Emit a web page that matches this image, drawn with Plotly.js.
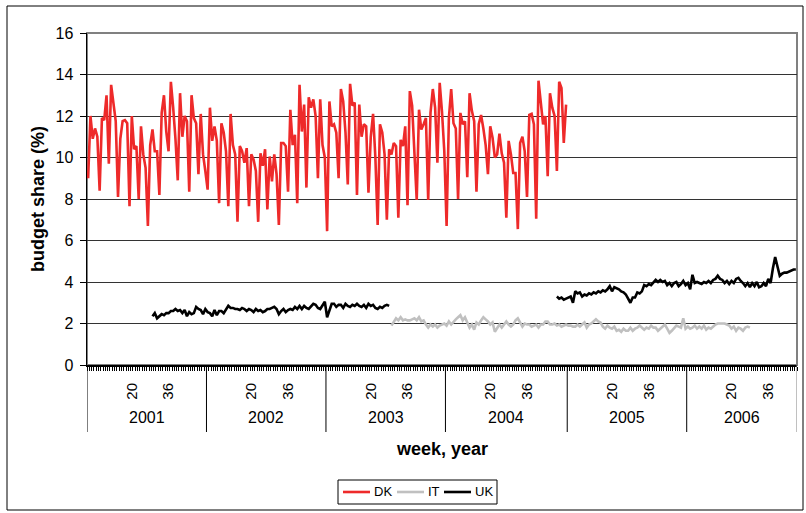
<!DOCTYPE html>
<html>
<head>
<meta charset="utf-8">
<script src="https://cdn.plot.ly/plotly-3.0.1.min.js"></script>
<style>
  body { margin: 0; background: #fff; }
  #plot { width: 806px; height: 513px; }
</style>
</head>
<body>
<div id="plot"></div>
<script>
// weekly budget share (%) by country

const years = ['2001', '2002', '2003', '2004', '2005', '2006'];
const weeksPerYear = [52, 52, 52, 53, 52, 48];
const weekLabels = [20, 36];

const seriesNames = ['DK', 'IT', 'UK'];
const seriesColors = ['#ee2a2a', '#c0c0c0', '#000000'];

const dkStart = ['2001', 1];
const dkValues = [
    // 2001
    9.0, 12.0, 10.9, 11.4, 11.0, 8.4, 11.9, 11.8, 13.0, 9.7,
    13.5, 12.7, 11.75, 8.1, 10.9, 11.75, 11.8, 11.65, 7.65, 12.0,
    10.4, 10.55, 8.0, 11.5, 10.15, 9.5, 6.7, 10.6, 11.35, 10.3,
    10.3, 8.2, 12.15, 13.0, 11.25, 10.3, 13.65, 12.4, 10.9, 8.9,
    13.1, 11.0, 12.0, 11.75, 8.35, 13.0, 11.9, 11.65, 9.2, 12.1,
    10.15, 9.35,
    // 2002
    8.45, 12.4, 10.8, 11.5, 10.8, 7.8, 11.65, 11.2, 10.3, 7.65,
    12.1, 10.6, 10.15, 6.9, 10.55, 10.3, 9.75, 10.45, 7.65, 10.15,
    9.9, 9.35, 6.9, 10.2, 9.6, 10.4, 7.5, 10.05, 8.85, 10.15,
    9.2, 6.75, 10.7, 10.7, 10.55, 8.35, 12.3, 10.6, 11.1, 7.8,
    13.5, 11.25, 12.55, 8.55, 12.9, 12.4, 12.8, 12.0, 9.0, 12.8,
    10.6, 10.0,
    // 2003
    6.45, 12.7, 11.5, 11.6, 11.2, 9.0, 13.3, 12.7, 11.2, 8.7,
    13.55, 12.5, 12.65, 8.2, 12.55, 11.0, 11.6, 11.5, 8.3, 11.0,
    12.1, 10.0, 6.75, 11.6, 11.2, 10.15, 7.0, 10.4, 10.15, 10.7,
    10.55, 7.1, 10.85, 10.55, 11.5, 7.7, 13.2, 12.5, 10.0, 7.95,
    12.3, 11.35, 11.6, 11.9, 7.95, 12.15, 13.3, 12.4, 9.75, 13.6,
    12.2, 10.3,
    // 2004
    6.7, 11.9, 13.3, 11.65, 11.4, 8.0, 12.15, 11.6, 11.75, 9.05,
    13.1, 12.25, 11.75, 8.35, 11.6, 12.05, 11.4, 10.6, 9.2, 11.5,
    10.95, 10.0, 10.15, 11.15, 10.2, 9.75, 7.1, 10.8, 10.15, 9.25,
    9.25, 6.55, 10.7, 11.0, 10.3, 8.1, 12.05, 12.1, 11.6, 7.05,
    13.7, 12.5, 11.6, 12.0, 9.1, 13.1, 12.4, 12.0, 9.35, 13.65,
    13.35, 10.7, 12.55
];

const itStart = ['2003', 29];
const itValues = [
    1.9, 2.05, 2.25, 2.15, 2.3, 2.15, 2.2, 2.15, 2.15, 2.2,
    2.25, 2.15, 2.3, 2.1, 2.15, 1.95, 1.8, 1.95, 1.85, 1.95,
    1.8, 1.9, 1.95, 2.0, 1.9, 2.1, 1.95, 2.1, 2.2, 2.3,
    2.4, 2.15, 2.3, 2.05, 1.8, 1.95, 1.7, 2.05, 1.95, 2.15,
    2.3, 2.2, 2.1, 1.95, 2.05, 1.6, 1.8, 1.95, 1.8, 1.95,
    2.1, 1.95, 1.85, 1.95, 2.15, 2.25, 2.05, 1.85, 2.0, 1.95,
    1.95, 1.85, 1.9, 1.95, 1.8, 1.95, 1.95, 2.1, 2.1, 1.95,
    1.95, 2.0, 1.9, 1.95, 1.85, 1.9, 1.95, 1.9, 1.9, 1.85,
    1.85, 1.95, 1.85, 1.95, 2.05, 1.8, 1.95, 2.0, 2.1, 2.2,
    2.1, 2.05, 1.85, 1.75, 1.9, 1.8, 1.75, 1.85, 1.65, 1.7,
    1.6, 1.75, 1.65, 1.65, 1.8, 1.65, 1.75, 1.8, 1.9, 1.8,
    1.7, 1.8, 1.75, 1.9, 1.8, 1.8, 1.65, 1.75, 1.85, 1.95,
    1.75, 1.55, 1.65, 1.8, 1.9, 1.85, 1.8, 2.25, 1.75, 1.85,
    1.75, 1.8, 1.9, 1.75, 1.85, 1.75, 1.9, 1.7, 1.8, 1.75,
    1.85, 1.95, 2.0, 2.0, 2.0, 2.0, 1.95, 1.9, 1.75, 1.85,
    1.65, 1.8, 1.75, 1.65, 1.8, 1.85, 1.8
];

const ukStartA = ['2001', 29];
const ukValuesA = [
    2.35, 2.5, 2.25, 2.35, 2.45, 2.4, 2.5, 2.5, 2.6, 2.6,
    2.7, 2.6, 2.65, 2.5, 2.65, 2.35, 2.55, 2.45, 2.5, 2.8,
    2.7, 2.65, 2.45, 2.7, 2.55, 2.5, 2.35, 2.65, 2.4, 2.6,
    2.6, 2.5, 2.7, 2.85, 2.75, 2.75, 2.7, 2.7, 2.65, 2.75,
    2.7, 2.6, 2.7, 2.65, 2.55, 2.7, 2.6, 2.65, 2.55, 2.6,
    2.7, 2.7, 2.75, 2.8, 2.7, 2.45, 2.6, 2.7, 2.55, 2.65,
    2.7, 2.65, 2.8, 2.7, 2.85, 2.7, 2.85, 2.75, 2.7, 2.85,
    2.95, 2.9, 2.75, 2.7, 2.9, 3.05, 2.3, 2.65, 2.95, 2.95,
    2.8, 2.9, 2.9, 2.75, 2.95, 2.85, 2.8, 2.9, 2.85, 2.95,
    2.85, 2.8, 2.9, 2.75, 2.95, 2.85, 2.9, 2.75, 2.7, 2.8,
    2.75, 2.85, 2.9, 2.85
];

const ukStartB = ['2004', 49];
const ukValuesB = [
    3.3, 3.2, 3.25, 3.15, 3.2, 3.25, 3.3, 3.0, 3.55, 3.45,
    3.5, 3.3, 3.4, 3.35, 3.45, 3.4, 3.5, 3.45, 3.55, 3.5,
    3.6, 3.55, 3.65, 3.8, 3.55, 3.75, 3.7, 3.65, 3.55, 3.5,
    3.4, 3.2, 3.0, 3.25, 3.25, 3.5, 3.45, 3.55, 3.85, 3.8,
    3.9, 3.85, 4.0, 4.1, 4.0, 4.1, 4.0, 4.05, 3.85, 3.95,
    3.8, 3.95, 4.0, 3.8, 3.9, 4.05, 3.85, 3.95, 3.65, 4.35,
    3.95, 4.0, 3.95, 3.9, 4.0, 3.95, 4.05, 3.95, 4.1, 4.15,
    4.3, 4.15, 4.1, 3.95, 4.05, 3.9, 4.05, 3.95, 4.15, 4.2,
    4.05, 3.95, 3.8, 3.95, 3.75, 3.95, 3.8, 4.0, 3.75, 3.8,
    3.95, 3.8, 4.15, 3.95, 4.65, 5.2, 4.75, 4.3, 4.4, 4.45,
    4.45, 4.5, 4.55, 4.6, 4.6
];

// first category index of each year
const yearOffset = [];
let acc = 0;
for (let i = 0; i < years.length; i++) {
    yearOffset.push(acc);
    acc += weeksPerYear[i];
}
const totalWeeks = acc;

function weekIndex(start) {
    return yearOffset[years.indexOf(start[0])] + start[1] - 1;
}

function xsFor(start, values) {
    const i0 = weekIndex(start);
    return values.map((v, i) => i0 + i);
}

const font = 'Liberation Sans, Arial, sans-serif';

const ukX = xsFor(ukStartA, ukValuesA).concat([null], xsFor(ukStartB, ukValuesB));
const ukY = ukValuesA.concat([null], ukValuesB);

const traces = [
    { x: xsFor(dkStart, dkValues), y: dkValues, name: seriesNames[0] },
    { x: xsFor(itStart, itValues), y: itValues, name: seriesNames[1] },
    { x: ukX, y: ukY, name: seriesNames[2], connectgaps: false }
].map((t, i) => Object.assign(t, {
    type: 'scatter', mode: 'lines', line: { color: seriesColors[i], width: 2.6 }
}));

// week ticks (20, 36) in every year
const tickvals = [];
const ticktext = [];
years.forEach((y, i) => {
    weekLabels.forEach(w => {
        if (w <= weeksPerYear[i]) {
            tickvals.push(yearOffset[i] + w - 1);
            ticktext.push(String(w));
        }
    });
});

// pixel helpers for the page furniture (plot area 87..797 x 33..365)
const plotW = 710, plotH = 332;
const fx = p => (p - 87) / plotW;
const fy = p => (365 - p) / plotH;

const shapes = [
    // plot area border (grey top/right)
    { type: 'rect', xref: 'paper', yref: 'paper', x0: 0, x1: 1, y0: 0, y1: 1,
      line: { color: '#808080', width: 2 }, layer: 'below' },
    // chart border
    { type: 'rect', xref: 'paper', yref: 'paper', x0: fx(7), x1: fx(803),
      y0: fy(510), y1: fy(6), line: { color: '#000', width: 1 } },
    // legend box
    { type: 'rect', xref: 'paper', yref: 'paper', x0: fx(338), x1: fx(497),
      y0: fy(504), y1: fy(480), line: { color: '#000', width: 1 }, fillcolor: '#fff' }
];
// year separators
for (let i = 0; i <= years.length; i++) {
    const xv = (i < years.length ? yearOffset[i] : totalWeeks) - 0.5;
    shapes.push({ type: 'line', xref: 'x', yref: 'paper', x0: xv, x1: xv, y0: 0, y1: fy(432),
      line: { color: i === years.length ? '#808080' : '#000', width: 1 } });
}

const annotations = years.map((y, i) => ({
    x: yearOffset[i] + weeksPerYear[i] / 2 - 0.5, y: fy(417), xref: 'x', yref: 'paper',
    text: y, showarrow: false, font: { family: font, size: 16, color: '#000' },
    xanchor: 'center', yanchor: 'middle'
}));
annotations.push({
    x: 0.5, y: fy(449), xref: 'paper', yref: 'paper', text: '<b>week, year</b>',
    showarrow: false, font: { family: font, size: 18, color: '#000' }, xanchor: 'center', yanchor: 'middle'
});
annotations.push({
    x: fx(38), y: 0.5, xref: 'paper', yref: 'paper', text: '<b>budget share (%)</b>',
    textangle: -90, showarrow: false, font: { family: font, size: 18, color: '#000' },
    xanchor: 'center', yanchor: 'middle'
});

// legend entries: short line sample then name
const legendLineX = [343, 397, 444];
seriesNames.forEach((name, i) => {
    const x0 = legendLineX[i];
    shapes.push({ type: 'line', xref: 'paper', yref: 'paper', x0: fx(x0), x1: fx(x0 + 27),
      y0: fy(492), y1: fy(492), line: { color: seriesColors[i], width: 2.6 } });
    annotations.push({ x: fx(x0 + 29), y: fy(492), xref: 'paper', yref: 'paper', text: name,
      showarrow: false, xanchor: 'left', yanchor: 'middle',
      font: { family: font, size: 13, color: '#000' } });
});

const layout = {
    width: 806,
    height: 513,
    margin: { l: 87, r: 9, t: 33, b: 148, autoexpand: false },
    paper_bgcolor: '#fff',
    plot_bgcolor: '#fff',
    showlegend: false,
    xaxis: {
        range: [-0.5, totalWeeks - 0.5],
        tickmode: 'array', tickvals: tickvals, ticktext: ticktext,
        tickangle: -90, ticks: 'outside', ticklen: 10, tickcolor: 'rgba(0,0,0,0)',
        tickfont: { family: font, size: 15, color: '#000' },
        showgrid: false, zeroline: false,
        showline: true, linecolor: '#000', linewidth: 2,
        minor: { tickmode: 'linear', tick0: -0.5, dtick: 1, ticks: 'outside', ticklen: 4,
                 tickcolor: '#000', tickwidth: 1, showgrid: false }
    },
    yaxis: {
        range: [0, 16], dtick: 2, tick0: 0,
        ticks: 'outside', ticklen: 6, tickcolor: '#000',
        ticklabelstandoff: 3,
        tickfont: { family: font, size: 16, color: '#000' },
        showgrid: true, gridcolor: '#333', gridwidth: 1,
        zeroline: false, showline: true, linecolor: '#000', linewidth: 1.5
    },
    shapes: shapes,
    annotations: annotations
};

Plotly.newPlot('plot', traces, layout, { staticPlot: true });
</script>
</body>
</html>
